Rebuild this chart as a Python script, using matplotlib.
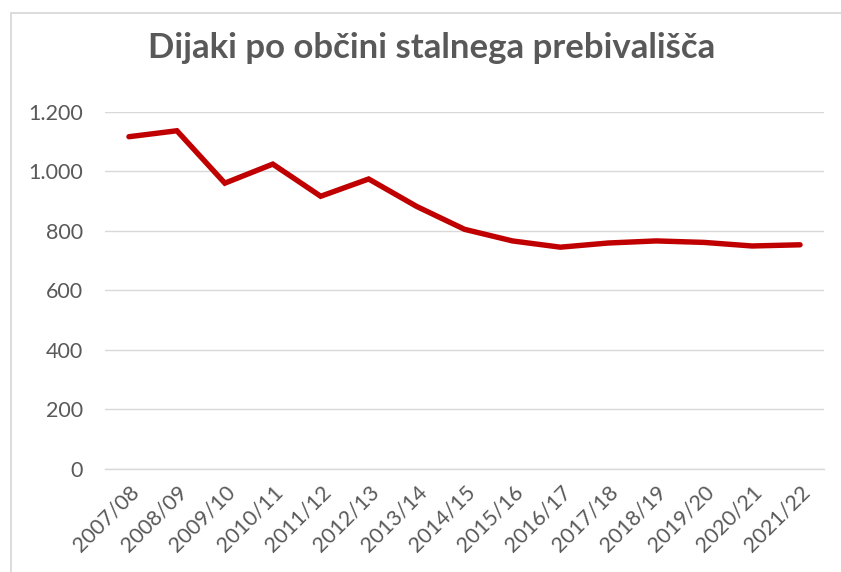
import matplotlib
matplotlib.use("Agg")
import matplotlib.pyplot as plt
from matplotlib.patches import Rectangle

plt.rcParams['font.family'] = ['Lato', 'DejaVu Sans']

years = ["2007/08", "2008/09", "2009/10", "2010/11", "2011/12", "2012/13", "2013/14",
         "2014/15", "2015/16", "2016/17", "2017/18", "2018/19", "2019/20", "2020/21", "2021/22"]
students = [1116, 1136, 960, 1024, 916, 974, 882, 805, 766, 745, 759, 766, 761, 749, 753]
yticks = [0, 200, 400, 600, 800, 1000, 1200]
ytick_labels = ["0", "200", "400", "600", "800", "1.000", "1.200"]
title = "Dijaki po občini stalnega prebivališča"

W, H = 841, 572
fig = plt.figure(figsize=(W / 100, H / 100), dpi=100)
fig.patch.set_facecolor("white")

# chart border (only top and left visible in the crop)
fig.add_artist(Rectangle((11 / W, -0.1), 1.2, (H - 12.7) / H + 0.1, transform=fig.transFigure,
                         fill=False, edgecolor="#D9D9D9", linewidth=1.3))

left, right = 105 / W, 824 / W
bottom, top = 1 - 469 / H, 1 - 111.7 / H
ax = fig.add_axes([left, bottom, right - left, top - bottom])

x = list(range(len(years)))
ax.plot(x, students, color="#C00000", linewidth=3.9, solid_capstyle="round",
        solid_joinstyle="miter", zorder=3)

ax.set_xlim(-0.5, len(years) - 0.5)
ax.set_ylim(0, 1200)
ax.set_yticks(yticks)
ax.set_yticklabels(ytick_labels)
ax.set_xticks(x)
ax.set_xticklabels(years, rotation=45, ha="right", rotation_mode="anchor")

ax.grid(axis="y", color="#D9D9D9", linewidth=1.0)
ax.set_axisbelow(True)
for name, s in ax.spines.items():
    s.set_visible(name == "bottom")
ax.spines["bottom"].set_color("#D9D9D9")
ax.spines["bottom"].set_linewidth(1.0)
ax.tick_params(axis="both", length=0, labelsize=15.5, colors="#595959")
ax.tick_params(axis="y", pad=16)
ax.tick_params(axis="x", pad=9)

fig.text(432 / W, 1 - 58 / H, title, ha="center", va="baseline",
         fontsize=25, fontweight="bold", color="#595959")

fig.savefig("out.png", dpi=100)
